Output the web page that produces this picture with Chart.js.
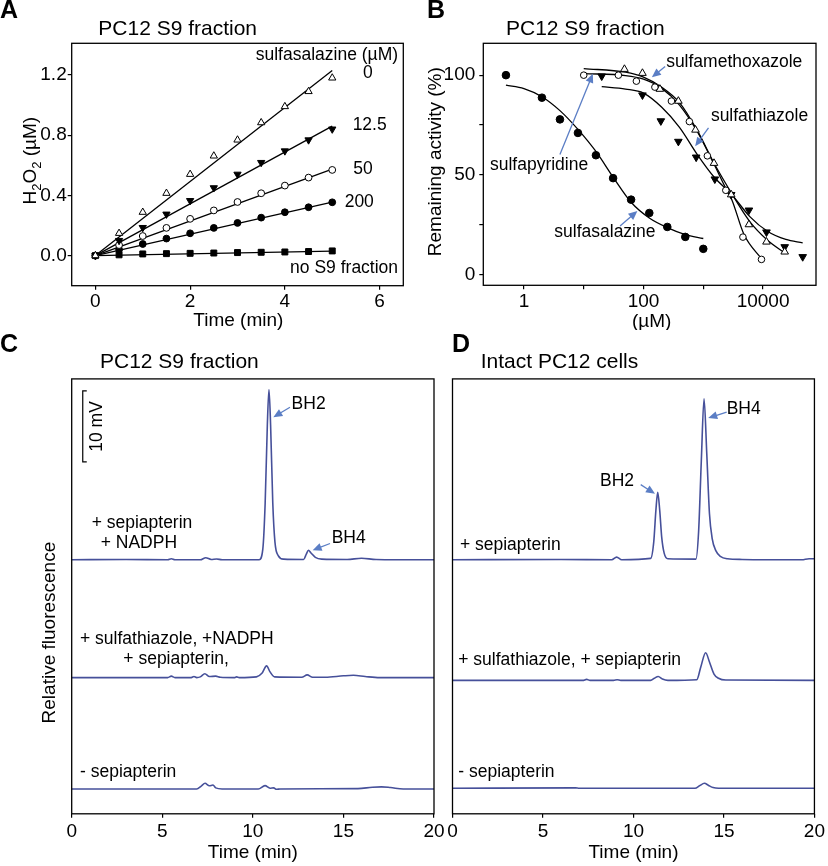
<!DOCTYPE html>
<html>
<head>
<meta charset="utf-8">
<title>Sulfa drugs inhibit sepiapterin reductase</title>
<script src="https://cdn.jsdelivr.net/npm/chart.js@4.4.1/dist/chart.umd.min.js"></script>
<style>
  body { margin: 0; background: #fff; }
  #page { position: relative; width: 828px; height: 866px; overflow: hidden; font-family: "Liberation Sans", Arial, sans-serif; color: #000; }
  #page canvas { position: absolute; }
  .txt { position: absolute; white-space: nowrap; line-height: 1; }
</style>
</head>
<body>
<div id="page"></div>
<script>
/* ================= DATA ================= */

/* ----- A: H2O2 (µM) vs time, per sulfasalazine dose ----- */
const timeA     = [0, 0.5, 1, 1.5, 2, 2.5, 3, 3.5, 4, 4.5, 5];
const h2o2_0    = [0, 0.148, 0.288, 0.414, 0.54, 0.662, 0.768, 0.883, 0.99, 1.09, 1.18];
const h2o2_12   = [0, 0.10, 0.186, 0.275, 0.365, 0.45, 0.54, 0.618, 0.695, 0.768, 0.84];
const h2o2_50   = [0, 0.07, 0.13, 0.184, 0.244, 0.30, 0.356, 0.414, 0.465, 0.518, 0.569];
const h2o2_200  = [0, 0.04, 0.077, 0.113, 0.148, 0.184, 0.217, 0.252, 0.288, 0.321, 0.354];
const h2o2_noS9 = [0, 0.005, 0.011, 0.013, 0.015, 0.017, 0.02, 0.022, 0.024, 0.027, 0.031];
const fitTimeA  = [0, 5];
const fitA_0    = [0, 1.23];
const fitA_12   = [0, 0.86];
const fitA_50   = [0, 0.575];
const fitA_200  = [0, 0.355];
const fitA_noS9 = [0, 0.03];
const ticksAx = [0, 2, 4, 6];
const ticksAy = [0, 0.4, 0.8, 1.2];

/* ----- B: remaining activity (%) vs drug (µM) ----- */
const salazineX = [0.5, 2, 4, 8, 16, 31, 62, 125, 250, 500, 1000];
const salazineY = [100, 88.7, 77.8, 71, 59.8, 48.3, 37.5, 30.8, 23.8, 18.8, 12.8];
const salazineFitX = [0.5, 1, 2, 4, 8, 16, 31, 62, 125, 250, 500, 1000];
const salazineFitY = [95, 93.3, 89.2, 82.2, 72.8, 61.7, 48.8, 36.2, 28.3, 23.5, 20, 18];

const pyridineX = [10, 38, 76, 155, 293, 585, 1170, 2380, 4600, 9400];
const pyridineY = [100, 100, 97, 94, 87, 76.7, 59.5, 42.2, 18.7, 7.5];
const pyridineFitX = [10, 50, 100, 200, 400, 800, 1500, 2400, 3000, 4800, 9600];
const pyridineFitY = [100.8, 99.8, 98, 93.5, 85, 71.5, 55.5, 43, 37.5, 20, 7.5];

const methoxX = [48, 96, 188, 383, 740, 1510, 2930, 5800, 11400, 23000];
const methoxY = [103, 101, 93, 87, 72.5, 55.8, 40, 25, 16.3, 11.3];
const methoxFitX = [10, 50, 100, 200, 400, 800, 1500, 3000, 6000, 12000, 23000];
const methoxFitY = [103.3, 101.5, 99, 94, 86.2, 72, 56, 40.5, 26.5, 17, 10.8];

const thiazoleX = [20, 96, 195, 383, 760, 1560, 2930, 5800, 11400, 23000, 46000];
const thiazoleY = [99.5, 90, 77, 66.7, 58.8, 47.8, 40, 32.2, 21.2, 13.8, 8.8];
const thiazoleFitX = [20, 50, 100, 200, 400, 800, 1500, 3000, 6000, 12000, 24000, 46000];
const thiazoleFitY = [94.2, 93, 91, 84, 73.8, 60, 49, 40, 29, 21.5, 17.5, 15.8];

const ticksBx = [1, 10, 100, 1000, 10000];
const labelsBx = [1, 100, 10000];
const ticksBy = [0, 25, 50, 75, 100];
const labelsBy = [0, 50, 100];

/* ----- C: PC12 S9 fraction chromatograms (time min, signal mV above baseline) ----- */
const c1T = [0, 3, 5.3, 5.5, 5.7, 7.1, 7.4, 7.7, 8.0, 8.3, 10.35, 10.55, 10.68, 10.8, 10.89, 10.98, 11.1, 11.22, 11.4, 11.7, 12.8, 12.95, 13.07, 13.2, 13.45, 13.8, 15.2, 16.0, 16.8, 20];
const c1V = [0, 0.05, 0, 0.15, 0, 0, 0.3, 0.05, 0.12, 0, 0, 1.5, 8, 19, 24, 19, 8, 2.5, 0.6, 0.1, 0.05, 0.8, 1.35, 1.0, 0.35, 0.1, 0.05, 0.22, 0.05, 0];
const c2T = [0, 5.3, 5.5, 5.7, 6.6, 6.75, 6.9, 7.1, 7.35, 7.6, 7.95, 8.2, 9.0, 9.1, 9.25, 10.2, 10.5, 10.76, 10.95, 11.2, 12.7, 13.0, 13.3, 14.0, 15.0, 15.55, 16.2, 17.0, 20];
const c2V = [0, 0, 0.2, 0, 0, 0.15, 0, 0.1, 0.55, 0.15, 0.2, 0.05, 0, 0.1, 0, 0.1, 0.6, 1.65, 0.8, 0.1, 0.05, 0.38, 0.05, 0.05, 0.25, 0.32, 0.15, 0, 0];
const c3T = [0, 6.9, 7.15, 7.36, 7.6, 7.8, 7.95, 8.3, 10.3, 10.67, 10.95, 11.15, 11.3, 11.5, 15.8, 16.6, 17.1, 17.6, 18.3, 20];
const c3V = [0, 0, 0.4, 0.8, 0.45, 0.55, 0.15, 0, 0, 0.47, 0.1, 0.15, -0.05, 0, 0.05, 0.25, 0.3, 0.2, 0, 0];
const baseC = [35.8, 19.2, 3.5];

/* ----- D: intact PC12 cells chromatograms ----- */
const d1T = [0, 6, 8.8, 9.07, 9.35, 10.95, 11.12, 11.24, 11.34, 11.45, 11.56, 11.7, 11.9, 13.45, 13.6, 13.75, 13.9, 14.05, 14.2, 14.35, 14.55, 14.8, 15.2, 16, 19.3, 19.7, 20];
const d1V = [0, 0.05, 0, 0.38, 0, 0.2, 2.5, 7, 9.5, 7, 3.2, 0.9, 0.15, 0.1, 4, 14, 22.7, 15, 6.5, 3, 1.3, 0.5, 0.15, 0.05, 0, 0.15, 0.15];
const d2T = [0, 7.2, 7.41, 7.6, 8.9, 9.1, 9.3, 10.95, 11.15, 11.37, 11.6, 11.9, 13.5, 13.72, 13.99, 14.2, 14.45, 14.7, 15.1, 20];
const d2V = [0, 0, 0.15, 0, 0, 0.1, 0, 0, 0.3, 0.56, 0.2, 0, 0.1, 1.9, 3.9, 2.6, 0.9, 0.3, 0.05, 0];
const d3T = [0, 6.8, 7.0, 13.4, 13.65, 13.92, 14.15, 14.4, 14.7, 20];
const d3V = [0, 0.05, 0, 0, 0.35, 0.7, 0.4, 0.1, 0, 0];
const baseD = [35.8, 18.8, 3.6];

const ticksCD = [0, 5, 10, 15, 20];
const scaleBarMV = 10;

/* ================= STYLE ================= */
const FONT = '"Liberation Sans", Arial, sans-serif';
const TRACE = '#46509a';
const ARROW = '#5b7ec5';
const TICK_PX = 19;
const NOTE_PX = 17.5;

const page = document.getElementById('page');

/* ================= HELPERS ================= */
function addCanvas(r) {
  const c = document.createElement('canvas');
  c.width = r.w; c.height = r.h;
  c.style.left = r.x + 'px'; c.style.top = r.y + 'px';
  c.style.width = r.w + 'px'; c.style.height = r.h + 'px';
  page.appendChild(c);
  return c.getContext('2d');
}

// html text placed by its baseline
function addText(s, x, base, size, bold) {
  const d = document.createElement('div');
  d.className = 'txt';
  d.textContent = s;
  d.style.left = x + 'px';
  d.style.top = (base - 0.8465 * size) + 'px';
  d.style.fontSize = size + 'px';
  if (bold) d.style.fontWeight = 'bold';
  page.appendChild(d);
}

function say(ctx, s, x, y, size, align, rot) {
  ctx.save();
  ctx.font = size + 'px ' + FONT;
  ctx.fillStyle = '#000';
  ctx.textAlign = align || 'left';
  ctx.textBaseline = 'middle';
  ctx.translate(x, y);
  if (rot) ctx.rotate(rot);
  ctx.fillText(s, 0, 0);
  ctx.restore();
}

function arrow(ctx, x1, y1, x2, y2) {
  const a = Math.atan2(y2 - y1, x2 - x1), L = 9, W = 4;
  const c = Math.cos(a), s = Math.sin(a);
  ctx.save();
  ctx.strokeStyle = ARROW; ctx.fillStyle = ARROW; ctx.lineWidth = 1.3;
  ctx.beginPath(); ctx.moveTo(x1, y1); ctx.lineTo(x2 - L * c * 0.8, y2 - L * s * 0.8); ctx.stroke();
  ctx.beginPath(); ctx.moveTo(x2, y2);
  ctx.lineTo(x2 - L * c + W * s, y2 - L * s - W * c);
  ctx.lineTo(x2 - L * c - W * s, y2 - L * s + W * c);
  ctx.closePath(); ctx.fill();
  ctx.restore();
}

function padFor(r, box, wy, hx) {
  return { left: box.l - r.x - wy, top: box.t - r.y, right: r.x + r.w - box.r, bottom: r.y + r.h - box.b - hx };
}

function pts(xs, ys, base) {
  return xs.map((x, i) => ({ x: x, y: ys[i] + (base || 0) }));
}

function markers(xs, ys, style, filled, r, rot) {
  return {
    data: pts(xs, ys), showLine: false, pointStyle: style, pointRadius: r, pointRotation: rot || 0,
    pointBackgroundColor: filled ? '#000' : '#fff', pointBorderColor: '#000', pointBorderWidth: 1, order: 0
  };
}

function curve(xs, ys, smooth) {
  return {
    data: pts(xs, ys), borderColor: '#000', borderWidth: 1.3, pointRadius: 0, fill: false,
    cubicInterpolationMode: smooth ? 'monotone' : 'default', order: 1
  };
}

function trace(xs, ys, base) {
  return {
    data: pts(xs, ys, base), borderColor: TRACE, borderWidth: 1.6, pointRadius: 0, fill: false,
    cubicInterpolationMode: 'monotone'
  };
}

function tickAxis(type, min, max, ticks, fmt, pad, size) {
  return {
    type: type, min: min, max: max,
    afterBuildTicks: s => { s.ticks = ticks.map(v => ({ value: v })); },
    grid: { display: true, drawOnChartArea: false, drawTicks: true, tickLength: 4, color: '#000', lineWidth: 1.2 },
    border: { display: false },
    ticks: { color: '#000', font: { family: FONT, size: TICK_PX }, padding: pad, maxRotation: 0, autoSkip: false, callback: fmt }
  };
}

const framePlugin = {
  id: 'frame',
  afterDatasetsDraw(chart) {
    const a = chart.chartArea, ctx = chart.ctx;
    ctx.save();
    ctx.strokeStyle = '#000'; ctx.lineWidth = 1.3;
    ctx.strokeRect(a.left, a.top, a.right - a.left, a.bottom - a.top);
    ctx.restore();
  }
};

const baseOptions = {
  responsive: false, animation: false, events: [],
  plugins: { legend: { display: false }, tooltip: { enabled: false } }
};

/* ================= PANEL A ================= */
const rectA = { x: 0, y: 0, w: 414, h: 330 };
const boxA = { l: 71.7, t: 43.3, r: 403.3, b: 285.7 };
const notesA = [
  { t: 'sulfasalazine (µM)', x: 6.39, y: 1.333, align: 'right' },
  { t: '0', x: 5.75, y: 1.21, align: 'center' },
  { t: '12.5', x: 5.79, y: 0.868, align: 'center' },
  { t: '50', x: 5.65, y: 0.574, align: 'center' },
  { t: '200', x: 5.57, y: 0.358, align: 'center' },
  { t: 'no S9 fraction', x: 6.39, y: -0.084, align: 'right' }
];

function drawH2O2(ctx, cx, cy) {
  const parts = [['H', 19, 0], ['2', 13, 5], ['O', 19, 0], ['2', 13, 5], [' (µM)', 19, 0]];
  ctx.save();
  ctx.translate(cx, cy); ctx.rotate(-Math.PI / 2);
  ctx.fillStyle = '#000'; ctx.textBaseline = 'alphabetic'; ctx.textAlign = 'left';
  let w = 0;
  parts.forEach(p => { ctx.font = p[1] + 'px ' + FONT; w += ctx.measureText(p[0]).width; });
  let x = -w / 2;
  parts.forEach(p => {
    ctx.font = p[1] + 'px ' + FONT;
    ctx.fillText(p[0], x, 7 + p[2]);
    x += ctx.measureText(p[0]).width;
  });
  ctx.restore();
}

new Chart(addCanvas(rectA), {
  type: 'line',
  data: {
    datasets: [
      markers(timeA, h2o2_0, 'triangle', false, 4.2),
      markers(timeA, h2o2_12, 'triangle', true, 4.2, 180),
      markers(timeA, h2o2_50, 'circle', false, 3.4),
      markers(timeA, h2o2_200, 'circle', true, 3.4),
      markers(timeA, h2o2_noS9, 'rect', true, 4.2),
      curve(fitTimeA, fitA_0), curve(fitTimeA, fitA_12), curve(fitTimeA, fitA_50),
      curve(fitTimeA, fitA_200), curve(fitTimeA, fitA_noS9)
    ]
  },
  options: Object.assign({}, baseOptions, {
    layout: { padding: padFor(rectA, boxA, 45, 30) },
    scales: {
      x: Object.assign(tickAxis('linear', -0.5, 6.5, ticksAx, v => String(v), 1),
        { afterFit: s => { s.height = 30; } }),
      y: Object.assign(tickAxis('linear', -0.2, 1.41, ticksAy, v => v.toFixed(1), 1),
        { afterFit: s => { s.width = 45; } })
    }
  }),
  plugins: [framePlugin, {
    id: 'notesA',
    afterDraw(chart) {
      const { x, y } = chart.scales, ctx = chart.ctx;
      notesA.forEach(n => say(ctx, n.t, x.getPixelForValue(n.x), y.getPixelForValue(n.y), NOTE_PX, n.align));
      drawH2O2(ctx, 28.5 - rectA.x, 160.7 - rectA.y);
      say(ctx, 'Time (min)', 238.3 - rectA.x, 321 - rectA.y, 19, 'center');
    }
  }]
});

/* ================= PANEL B ================= */
const rectB = { x: 414, y: 0, w: 414, h: 330 };
const boxB = { l: 483.3, t: 43.3, r: 816, b: 285.3 };
const notesB = [
  { t: 'sulfamethoxazole', x: 239, y: 106.3 },
  { t: 'sulfathiazole', x: 1340, y: 79.3 },
  { t: 'sulfapyridine', x: 0.27, y: 54.8 },
  { t: 'sulfasalazine', x: 3.22, y: 21.3 }
];
const arrowsB = [
  [230, 104.3, 138, 99],
  [1222, 73.5, 731, 64.3],
  [4.0, 60.2, 14.2, 100.7],
  [40.5, 24.3, 79, 31.8]
];

new Chart(addCanvas(rectB), {
  type: 'line',
  data: {
    datasets: [
      markers(salazineX, salazineY, 'circle', true, 3.8),
      markers(pyridineX, pyridineY, 'circle', false, 3.3),
      markers(methoxX, methoxY, 'triangle', false, 4.4),
      markers(thiazoleX, thiazoleY, 'triangle', true, 4.4, 180),
      curve(salazineFitX, salazineFitY, true),
      curve(pyridineFitX, pyridineFitY, true),
      curve(methoxFitX, methoxFitY, true),
      curve(thiazoleFitX, thiazoleFitY, true)
    ]
  },
  options: Object.assign({}, baseOptions, {
    layout: { padding: padFor(rectB, boxB, 45, 30) },
    scales: {
      x: Object.assign(tickAxis('logarithmic', 0.209, 76800, ticksBx,
        v => labelsBx.includes(v) ? String(v) : '', 1),
        { afterFit: s => { s.height = 30; } }),
      y: Object.assign(tickAxis('linear', -5.5, 116, ticksBy,
        v => labelsBy.includes(v) ? String(v) : '', 4),
        { afterFit: s => { s.width = 45; } })
    }
  }),
  plugins: [framePlugin, {
    id: 'notesB',
    afterDraw(chart) {
      const { x, y } = chart.scales, ctx = chart.ctx;
      notesB.forEach(n => say(ctx, n.t, x.getPixelForValue(n.x), y.getPixelForValue(n.y), NOTE_PX, 'left'));
      arrowsB.forEach(a => arrow(ctx, x.getPixelForValue(a[0]), y.getPixelForValue(a[1]),
        x.getPixelForValue(a[2]), y.getPixelForValue(a[3])));
      say(ctx, 'Remaining activity (%)', 435.7 - rectB.x, 161.7 - rectB.y, 19, 'center', -Math.PI / 2);
      say(ctx, '(µM)', 651.7 - rectB.x, 321.7 - rectB.y, 19, 'center');
    }
  }]
});

/* ================= PANELS C & D ================= */
function chromChart(rect, box, datasets, notes, arrows, extra) {
  new Chart(addCanvas(rect), {
    type: 'line',
    data: { datasets: datasets },
    options: Object.assign({}, baseOptions, {
      layout: { padding: padFor(rect, box, 0, 30) },
      scales: {
        x: Object.assign(tickAxis('linear', 0, 20, ticksCD, v => String(v), 3),
          { afterFit: s => { s.height = 30; } }),
        y: { type: 'linear', min: 0, max: 61.3, display: false }
      }
    }),
    plugins: [framePlugin, {
      id: 'notes',
      afterDraw(chart) {
        const { x, y } = chart.scales, ctx = chart.ctx;
        notes.forEach(n => say(ctx, n.t, x.getPixelForValue(n.x), y.getPixelForValue(n.y), NOTE_PX, 'left'));
        arrows.forEach(a => arrow(ctx, x.getPixelForValue(a[0]), y.getPixelForValue(a[1]),
          x.getPixelForValue(a[2]), y.getPixelForValue(a[3])));
        say(ctx, 'Time (min)', (x.left + x.right) / 2, 853 - rect.y, 19, 'center');
        if (extra) extra(chart, x, y, ctx);
      }
    }]
  });
}

const rectC = { x: 0, y: 330, w: 460, h: 536 };
const boxC = { l: 71.7, t: 378.9, r: 434, b: 813.8 };
chromChart(rectC, boxC,
  [trace(c1T, c1V, baseC[0]), trace(c2T, c2V, baseC[1]), trace(c3T, c3V, baseC[2])],
  [
    { t: '+ sepiapterin', x: 1.1, y: 40.9 },
    { t: '+ NADPH', x: 1.6, y: 38.1 },
    { t: '+ sulfathiazole, +NADPH', x: 0.46, y: 24.6 },
    { t: '+ sepiapterin,', x: 2.85, y: 21.8 },
    { t: '- sepiapterin', x: 0.46, y: 5.8 },
    { t: 'BH2', x: 12.14, y: 57.8 },
    { t: 'BH4', x: 14.35, y: 38.8 }
  ],
  [[12.05, 57.3, 11.13, 55.9], [14.26, 38.1, 13.3, 37.15]],
  (chart, x, y, ctx) => {
    // 10 mV scale bar
    const bx = x.getPixelForValue(0.61), y0 = y.getPixelForValue(49.6), y1 = y.getPixelForValue(49.6 + scaleBarMV);
    ctx.save();
    ctx.strokeStyle = '#000'; ctx.lineWidth = 1.2;
    ctx.beginPath();
    ctx.moveTo(bx + 4, y1); ctx.lineTo(bx, y1); ctx.lineTo(bx, y0); ctx.lineTo(bx + 4, y0);
    ctx.stroke();
    ctx.restore();
    say(ctx, scaleBarMV + ' mV', x.getPixelForValue(1.38), (y0 + y1) / 2, NOTE_PX, 'center', -Math.PI / 2);
    say(ctx, 'Relative fluorescence', 49.3 - rectC.x, 632.6 - rectC.y, 19, 'center', -Math.PI / 2);
  });

const rectD = { x: 440, y: 330, w: 388, h: 536 };
const boxD = { l: 452.5, t: 378.9, r: 814.5, b: 813.8 };
chromChart(rectD, boxD,
  [trace(d1T, d1V, baseD[0]), trace(d2T, d2V, baseD[1]), trace(d3T, d3V, baseD[2])],
  [
    { t: '+ sepiapterin', x: 0.41, y: 37.9 },
    { t: '+ sulfathiazole, + sepiapterin', x: 0.32, y: 21.7 },
    { t: '- sepiapterin', x: 0.32, y: 5.8 },
    { t: 'BH4', x: 15.15, y: 57.1 },
    { t: 'BH2', x: 8.15, y: 46.9 }
  ],
  [[15.15, 56.6, 14.13, 55.8], [10.4, 46.4, 11.19, 45.1]],
  null);

/* ================= PANEL LETTERS & TITLES ================= */
addText('A', 0, 18, 25, true);
addText('B', 427, 18, 25, true);
addText('C', 0, 352, 25, true);
addText('D', 452, 352, 25, true);
addText('PC12 S9 fraction', 98.3, 34.3, 21);
addText('PC12 S9 fraction', 506, 34.3, 21);
addText('PC12 S9 fraction', 100, 367.6, 21);
addText('Intact PC12 cells', 480.7, 367.6, 21);
</script>
</body>
</html>
